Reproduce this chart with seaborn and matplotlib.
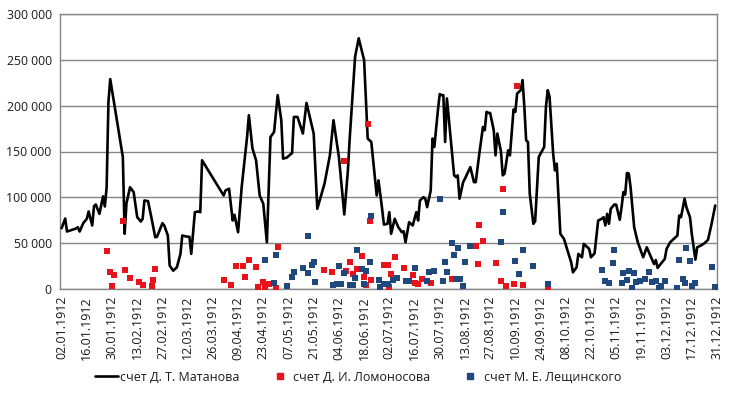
import numpy as np
import pandas as pd
import matplotlib
matplotlib.use("Agg")
import matplotlib.pyplot as plt
import matplotlib.dates as mdates
from matplotlib.ticker import FuncFormatter, FixedLocator
from matplotlib.lines import Line2D
import seaborn as sns

# ---------------- data (day numbers are days since 02.01.1912) ----------------
start_date = "1912-01-02"

matanov_days = [0, 2, 3, 8, 9, 10, 12, 14, 15, 17, 18, 19, 21, 23, 24, 25, 26, 27, 34, 35,
                36, 38, 40, 42, 44, 45, 46, 48, 50, 52, 53, 56, 57, 59, 60, 62, 64, 66, 67, 70,
                71, 72, 74, 76, 77, 78, 90, 91, 93, 95, 96, 98, 100, 101, 103, 104, 106, 108, 110, 112,
                114, 116, 118, 120, 122, 123, 125, 128, 129, 131, 134, 136, 140, 142, 146, 149, 151, 154, 157, 159,
                160, 163, 165, 168, 170, 172, 175, 176, 178, 179, 181, 182, 183, 185, 187, 189, 190, 191, 193, 195,
                197, 198, 199, 201, 202, 203, 205, 206, 207, 209, 210, 211, 212, 213, 214, 216, 218, 219, 220, 221,
                223, 224, 227, 229, 230, 232, 234, 235, 236, 237, 238, 240, 241, 242, 244, 245, 246, 248, 249, 251,
                252, 253, 255, 256, 257, 258, 259, 260, 262, 263, 265, 267, 268, 269, 270, 271, 273, 274, 275, 277,
                279, 281, 283, 284, 286, 287, 289, 290, 293, 294, 296, 298, 300, 301, 302, 303, 304, 305, 307, 308,
                310, 311, 312, 313, 314, 315, 316, 318, 320, 321, 323, 325, 327, 329, 330, 331, 333, 335, 336, 338,
                340, 342, 343, 344, 346, 347, 349, 350, 352, 353, 355, 357, 359, 361, 363]
matanov_vals = [66300, 76900, 62700, 66000, 67400, 62700, 71800, 76600, 84600, 69300, 90400, 92200, 82000, 101000, 90000, 111000, 204000, 229000, 144000, 60200,
                93300, 111000, 105700, 78300, 73600, 76600, 96600, 95800, 76600, 56400, 57000, 71800, 69300, 58300, 25500, 20000, 23600, 38300, 58300, 57000,
                57000, 38300, 83800, 84600, 83800, 140400, 102000, 107500, 109400, 74700, 81000, 61900, 111000, 129400, 165800, 189600, 153200, 140400, 102000, 93000,
                51000, 165800, 171300, 211500, 184100, 142200, 143300, 148300, 187700, 187700, 169600, 203000, 169600, 87500, 114900, 145800, 184100, 144000, 81300, 129400,
                164100, 253400, 273500, 249800, 164100, 160400, 102000, 118500, 87500, 70300, 71100, 83800, 60200, 76600, 67400, 61900, 63000, 51000, 72900, 69300,
                83800, 74700, 96600, 100200, 98500, 89300, 107500, 164100, 154900, 195100, 212600, 211500, 211500, 160400, 207900, 165800, 124000, 122100, 124000, 98500,
                116600, 120300, 133000, 116600, 116600, 147700, 176800, 173200, 193200, 192100, 192100, 173200, 145800, 169600, 150000, 124000, 125800, 151300, 145800, 195800,
                193200, 213300, 216900, 227900, 198700, 162200, 160400, 103900, 71100, 74000, 144000, 151300, 154900, 198700, 216900, 209600, 147700, 129400, 136700, 60200,
                54700, 41900, 29100, 18200, 23600, 38300, 34600, 49200, 43800, 34600, 38900, 74700, 76600, 78300, 69300, 82000, 71100, 87500, 92200, 92000,
                75500, 89300, 105700, 103000, 126500, 126000, 111000, 67400, 51000, 45500, 34600, 45500, 36400, 27300, 31700, 23000, 28000, 32800, 43800, 51000,
                54700, 58300, 80200, 78300, 98500, 89300, 78300, 60200, 32000, 45500, 47400, 49900, 53600, 71100, 91100]

lomonosov_days = [25, 27, 28, 29, 34, 35, 38, 43, 45, 50, 51, 52, 90, 94, 97, 101, 102, 104, 108, 109,
                  112, 113, 115, 119, 120, 146, 150, 157, 158, 160, 162, 164, 167, 168, 169, 170, 171, 172, 179, 181,
                  182, 183, 185, 190, 195, 196, 198, 200, 205, 217, 230, 231, 232, 234, 241, 244, 245, 247, 251, 253,
                  256, 270]
lomonosov_vals = [41100, 18200, 2800, 15300, 74700, 21100, 11600, 7200, 4400, 3600, 9800, 21400, 9800, 4400, 24700, 24700, 13500, 32100, 23600, 2000,
                  8000, 2000, 5500, 1500, 45500, 20800, 18200, 139500, 20000, 29500, 16700, 22000, 35500, 13500, 4000, 179700, 74000, 9800, 26300, 26300,
                  2000, 16400, 35300, 22700, 15500, 6300, 5000, 10500, 7000, 10900, 47400, 27000, 69300, 52800, 28400, 9100, 108600, 3600, 5500, 221600,
                  4400, 1800]

leshchinsky_days = [113, 118, 119, 125, 128, 129, 134, 137, 137, 139, 140, 141, 151, 153, 154, 155, 157, 160, 162, 163,
                    164, 167, 168, 169, 171, 172, 176, 177, 179, 181, 184, 186, 191, 193, 196, 203, 204, 207, 210, 212,
                    213, 214, 217, 218, 219, 220, 221, 223, 224, 227, 244, 245, 252, 254, 256, 262, 270, 300, 302, 304,
                    306, 307, 311, 312, 314, 315, 317, 318, 319, 321, 324, 326, 328, 330, 332, 333, 335, 342, 343, 345,
                    346, 347, 349, 350, 352, 361, 363]
leshchinsky_vals = [31700, 7000, 36800, 3600, 12700, 18200, 22500, 17100, 58000, 26300, 29100, 7200, 4700, 5500, 24700, 5500, 17100, 4700, 4700, 12000,
                    43000, 21900, 5500, 20000, 29900, 79100, 9800, 2500, 5500, 6000, 9500, 11800, 9100, 9100, 22800, 9100, 18900, 20000, 98000, 9100,
                    29100, 18900, 50300, 37500, 10900, 44400, 10500, 2800, 29500, 47000, 51000, 83700, 31000, 16900, 42500, 24700, 5000, 21000, 8200, 6300,
                    28800, 42600, 6500, 17300, 10000, 19300, 900, 17300, 7800, 8500, 10900, 18200, 7600, 8500, 1200, 3600, 8200, 1100, 31300, 10900,
                    6600, 44800, 31000, 3600, 7000, 23600, 1800]

series_names = ["счет Д. Т. Матанова", "счет Д. И. Ломоносова", "счет М. Е. Лещинского"]
tick_dates = pd.date_range("1912-01-02", "1912-12-31", freq="14D")
y_ticks = [0, 50000, 100000, 150000, 200000, 250000, 300000]

# ---------------- frames ----------------
t0 = pd.Timestamp(start_date)
df_line = pd.DataFrame({"date": t0 + pd.to_timedelta(matanov_days, unit="D"), "value": matanov_vals})
df_red = pd.DataFrame({"date": t0 + pd.to_timedelta(lomonosov_days, unit="D"), "value": lomonosov_vals})
df_blue = pd.DataFrame({"date": t0 + pd.to_timedelta(leshchinsky_days, unit="D"), "value": leshchinsky_vals})

sns.set_style("white")
plt.rcParams["font.family"] = ["Open Sans", "DejaVu Sans"]

RED = "#E8131A"
BLUE = "#1F497D"
GRID = "#868686"
TXT = "#1a1a1a"

fig = plt.figure(figsize=(7.30, 3.94), dpi=100)
ax = fig.add_axes([60 / 730, 1 - 289 / 394, 657 / 730, 275 / 394])

sns.lineplot(data=df_line, x="date", y="value", ax=ax, color="black", linewidth=1.9,
             estimator=None, sort=False, zorder=3)
sns.scatterplot(data=df_red, x="date", y="value", ax=ax, color=RED, marker="s", s=22,
                linewidth=0, zorder=4)
sns.scatterplot(data=df_blue, x="date", y="value", ax=ax, color=BLUE, marker="s", s=22,
                linewidth=0, zorder=5)

ax.set_xlim(t0 - pd.Timedelta(days=0.9), pd.Timestamp("1912-12-31"))
ax.set_ylim(0, 300000)
ax.yaxis.set_major_locator(FixedLocator(y_ticks))
ax.yaxis.set_major_formatter(FuncFormatter(lambda v, p: f"{int(v):,}".replace(",", " ")))
ax.xaxis.set_major_locator(FixedLocator(mdates.date2num(tick_dates)))
ax.xaxis.set_major_formatter(mdates.DateFormatter("%d.%m.%Y"))
plt.setp(ax.get_xticklabels(), rotation=90)
ax.tick_params(axis="x", labelsize=9.0, length=0, pad=5, labelcolor=TXT)
ax.tick_params(axis="y", labelsize=8.8, length=0, pad=6, labelcolor=TXT)
ax.grid(axis="y", color=GRID, linewidth=1)
ax.set_axisbelow(True)
for sp in ax.spines.values():
    sp.set_color(GRID)
    sp.set_linewidth(1)
ax.set_xlabel("")
ax.set_ylabel("")

handles = [Line2D([0], [0], color="black", lw=1.9),
           Line2D([0], [0], color=RED, marker="s", ls="none", markersize=5),
           Line2D([0], [0], color=BLUE, marker="s", ls="none", markersize=5)]
if ax.get_legend():
    ax.get_legend().remove()
fig.legend(handles, series_names, loc="center", bbox_to_anchor=(0.491, 1 - 377 / 394), ncol=3,
           frameon=False, fontsize=9.0, handlelength=1.8, handletextpad=0.2, columnspacing=2.3,
           labelcolor=TXT)

fig.savefig("out.png", dpi=100)
